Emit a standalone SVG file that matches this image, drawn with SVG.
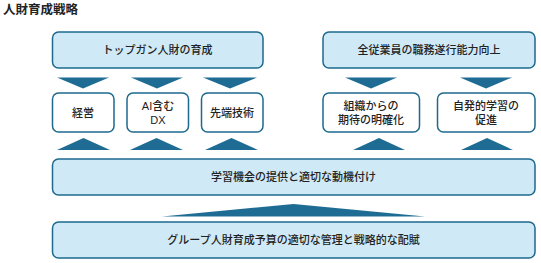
<svg xmlns="http://www.w3.org/2000/svg" width="541" height="263" viewBox="0 0 541 263">
<style>
.big{fill:#cfe9f6;stroke:#1d6a8e;stroke-width:1.5}
.small{fill:#ffffff;stroke:#1d6a8e;stroke-width:1.5}
.tri{fill:#1e6c93}
text{font-family:"Noto Sans CJK JP","Noto Sans",sans-serif;font-size:11px;fill:#222;text-anchor:middle;font-weight:500}
.two{font-family:"Liberation Sans","Noto Sans CJK JP",sans-serif}
.title{font-size:12.5px;font-weight:bold;text-anchor:start}
</style>
<rect width="541" height="263" fill="#ffffff"/>
<text class="title" x="3" y="14">人財育成戦略</text>
<g id="top-left">
<rect class="big" x="52.5" y="32" width="210.5" height="36" rx="6"/>
<text x="157.5" y="54">トップガン人財の育成</text>
</g>
<g id="top-right">
<rect class="big" x="323" y="32" width="212" height="36" rx="6"/>
<text x="429" y="54">全従業員の職務遂行能力向上</text>
</g>
<g id="keiei">
<rect class="small" x="52.5" y="93" width="61.5" height="39" rx="6"/>
<text x="83" y="116.5">経営</text>
</g>
<g id="ai-dx">
<rect class="small" x="127" y="93" width="61.5" height="39" rx="6"/>
<text class="two" x="158" y="110">AI含む<tspan x="158" dy="13.5">DX</tspan></text>
</g>
<g id="sentan">
<rect class="small" x="201.5" y="93" width="61.5" height="39" rx="6"/>
<text x="232" y="116.5">先端技術</text>
</g>
<g id="soshiki">
<rect class="small" x="323" y="93" width="96.5" height="39" rx="6"/>
<text class="two" x="371" y="110">組織からの<tspan x="371" dy="13.5">期待の明確化</tspan></text>
</g>
<g id="jihatsu">
<rect class="small" x="437.5" y="93" width="97.5" height="39" rx="6"/>
<text class="two" x="486" y="110">自発的学習の<tspan x="486" dy="13.5">促進</tspan></text>
</g>
<g id="middle">
<rect class="big" x="52.5" y="159" width="482.5" height="36" rx="6"/>
<text x="293.5" y="181">学習機会の提供と適切な動機付け</text>
</g>
<g id="bottom">
<rect class="big" x="52.5" y="222" width="482.5" height="36" rx="6"/>
<text x="293.5" y="244">グループ人財育成予算の適切な管理と戦略的な配賦</text>
</g>
<g id="connectors">
<polygon class="tri" points="57,77.5 109,77.5 83,88.5"/>
<polygon class="tri" points="131,77.5 183,77.5 157,88.5"/>
<polygon class="tri" points="203,77.5 257,77.5 230,88.5"/>
<polygon class="tri" points="345,77.5 397,77.5 371,88.5"/>
<polygon class="tri" points="460,77.5 512,77.5 486,88.5"/>
<polygon class="tri" points="57,150 110,150 83.5,138"/>
<polygon class="tri" points="130,150 183,150 156.5,138"/>
<polygon class="tri" points="205,150 258,150 231.5,138"/>
<polygon class="tri" points="353,150 405,150 379,138"/>
<polygon class="tri" points="461,150 513,150 487,138"/>
<polygon class="tri" points="162,216.5 425,216.5 293.5,204"/>
</g>
</svg>
